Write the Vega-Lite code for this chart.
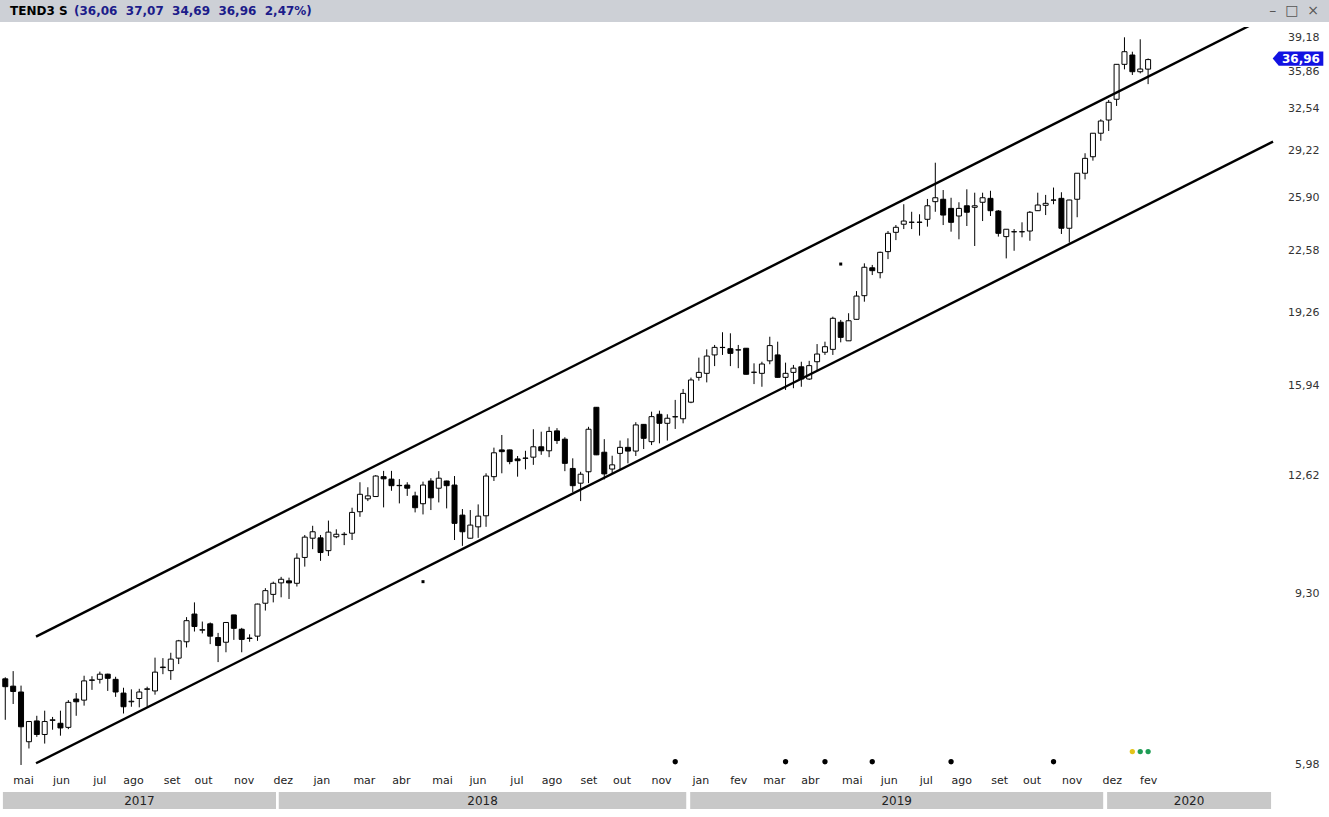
{
"$schema": "https://vega.github.io/schema/vega-lite/v6.json",
"padding": 0,
"background": "white",
"spacing": 5,
"config": {"view": {"stroke": null}, "font": "DejaVu Sans"},
"datasets": {
"candles": [
{"w":0,"o":7.47,"h":7.50,"l":6.72,"c":7.32},
{"w":1,"o":7.33,"h":7.62,"l":7.00,"c":7.23},
{"w":2,"o":7.22,"h":7.34,"l":5.98,"c":6.60},
{"w":3,"o":6.35,"h":6.70,"l":6.24,"c":6.69},
{"w":4,"o":6.70,"h":6.79,"l":6.43,"c":6.47},
{"w":5,"o":6.47,"h":6.88,"l":6.32,"c":6.69},
{"w":6,"o":6.71,"h":6.77,"l":6.55,"c":6.72},
{"w":7,"o":6.66,"h":6.88,"l":6.45,"c":6.58},
{"w":8,"o":6.59,"h":7.07,"l":6.56,"c":7.03},
{"w":9,"o":7.09,"h":7.20,"l":6.79,"c":7.04},
{"w":10,"o":7.07,"h":7.53,"l":6.97,"c":7.43},
{"w":11,"o":7.44,"h":7.52,"l":7.26,"c":7.45},
{"w":12,"o":7.46,"h":7.61,"l":7.38,"c":7.56},
{"w":13,"o":7.56,"h":7.57,"l":7.24,"c":7.48},
{"w":14,"o":7.46,"h":7.51,"l":7.13,"c":7.22},
{"w":15,"o":7.20,"h":7.30,"l":6.83,"c":6.95},
{"w":16,"o":7.04,"h":7.27,"l":6.95,"c":7.05},
{"w":17,"o":7.10,"h":7.28,"l":6.94,"c":7.22},
{"w":18,"o":7.27,"h":7.32,"l":6.95,"c":7.28},
{"w":19,"o":7.24,"h":7.89,"l":7.17,"c":7.60},
{"w":20,"o":7.69,"h":7.88,"l":7.56,"c":7.70},
{"w":21,"o":7.63,"h":7.99,"l":7.45,"c":7.86},
{"w":22,"o":7.88,"h":8.26,"l":7.76,"c":8.24},
{"w":23,"o":8.22,"h":8.76,"l":8.10,"c":8.68},
{"w":24,"o":8.83,"h":9.10,"l":8.44,"c":8.55},
{"w":25,"o":8.47,"h":8.66,"l":8.40,"c":8.48},
{"w":26,"o":8.61,"h":8.64,"l":8.17,"c":8.34},
{"w":27,"o":8.31,"h":8.41,"l":7.80,"c":8.14},
{"w":28,"o":8.21,"h":8.65,"l":8.00,"c":8.64},
{"w":29,"o":8.81,"h":8.81,"l":8.26,"c":8.51},
{"w":30,"o":8.49,"h":8.52,"l":8.00,"c":8.27},
{"w":31,"o":8.29,"h":8.38,"l":8.22,"c":8.30},
{"w":32,"o":8.34,"h":9.07,"l":8.24,"c":9.06},
{"w":33,"o":9.08,"h":9.44,"l":8.91,"c":9.38},
{"w":34,"o":9.29,"h":9.60,"l":9.10,"c":9.56},
{"w":35,"o":9.57,"h":9.72,"l":9.22,"c":9.66},
{"w":36,"o":9.62,"h":9.70,"l":9.18,"c":9.57},
{"w":37,"o":9.56,"h":10.33,"l":9.48,"c":10.20},
{"w":38,"o":10.22,"h":10.83,"l":9.98,"c":10.77},
{"w":39,"o":10.74,"h":11.09,"l":10.44,"c":10.92},
{"w":40,"o":10.75,"h":10.83,"l":10.13,"c":10.35},
{"w":41,"o":10.40,"h":11.24,"l":10.26,"c":10.91},
{"w":42,"o":10.78,"h":10.99,"l":10.74,"c":10.85},
{"w":43,"o":10.84,"h":10.91,"l":10.55,"c":10.85},
{"w":44,"o":10.88,"h":11.62,"l":10.69,"c":11.48},
{"w":45,"o":11.50,"h":12.41,"l":11.35,"c":12.03},
{"w":46,"o":11.89,"h":12.25,"l":11.82,"c":11.98},
{"w":47,"o":11.96,"h":12.64,"l":11.95,"c":12.61},
{"w":48,"o":12.59,"h":12.78,"l":11.63,"c":12.52},
{"w":49,"o":12.51,"h":12.78,"l":12.14,"c":12.30},
{"w":50,"o":12.30,"h":12.51,"l":11.75,"c":12.31},
{"w":51,"o":12.32,"h":12.41,"l":11.98,"c":12.22},
{"w":52,"o":11.98,"h":12.11,"l":11.48,"c":11.62},
{"w":53,"o":11.74,"h":12.43,"l":11.42,"c":12.32},
{"w":54,"o":12.45,"h":12.54,"l":11.55,"c":11.92},
{"w":55,"o":12.22,"h":12.77,"l":11.78,"c":12.54},
{"w":56,"o":12.45,"h":12.46,"l":11.60,"c":12.30},
{"w":57,"o":12.32,"h":12.61,"l":10.69,"c":11.16},
{"w":58,"o":11.40,"h":11.58,"l":10.53,"c":10.92},
{"w":59,"o":10.74,"h":11.55,"l":10.73,"c":11.11},
{"w":60,"o":11.06,"h":11.72,"l":10.75,"c":11.37},
{"w":61,"o":11.38,"h":12.70,"l":11.06,"c":12.61},
{"w":62,"o":12.59,"h":13.57,"l":12.45,"c":13.39},
{"w":63,"o":13.49,"h":14.02,"l":12.70,"c":13.43},
{"w":64,"o":13.49,"h":13.50,"l":13.00,"c":13.09},
{"w":65,"o":13.18,"h":13.28,"l":12.59,"c":13.12},
{"w":66,"o":13.20,"h":13.46,"l":12.83,"c":13.21},
{"w":67,"o":13.24,"h":14.23,"l":12.98,"c":13.60},
{"w":68,"o":13.60,"h":14.14,"l":13.32,"c":13.46},
{"w":69,"o":13.46,"h":14.32,"l":13.24,"c":14.15},
{"w":70,"o":14.17,"h":14.27,"l":13.70,"c":13.82},
{"w":71,"o":13.87,"h":13.94,"l":12.77,"c":13.03},
{"w":72,"o":12.86,"h":13.20,"l":12.09,"c":12.30},
{"w":73,"o":12.38,"h":12.75,"l":11.82,"c":12.67},
{"w":74,"o":12.75,"h":14.32,"l":12.38,"c":14.23},
{"w":75,"o":15.06,"h":15.07,"l":13.31,"c":13.32},
{"w":76,"o":13.41,"h":13.87,"l":12.50,"c":12.68},
{"w":77,"o":12.84,"h":13.29,"l":12.70,"c":12.98},
{"w":78,"o":13.37,"h":13.82,"l":12.81,"c":13.58},
{"w":79,"o":13.58,"h":13.90,"l":13.03,"c":13.45},
{"w":80,"o":13.45,"h":14.49,"l":13.28,"c":14.39},
{"w":81,"o":14.41,"h":14.42,"l":13.52,"c":13.90},
{"w":82,"o":13.78,"h":14.89,"l":13.66,"c":14.70},
{"w":83,"o":14.79,"h":14.93,"l":13.72,"c":14.45},
{"w":84,"o":14.45,"h":14.79,"l":13.82,"c":14.64},
{"w":85,"o":14.69,"h":15.35,"l":14.24,"c":14.70},
{"w":86,"o":14.62,"h":15.79,"l":14.45,"c":15.61},
{"w":87,"o":15.26,"h":16.26,"l":15.22,"c":16.16},
{"w":88,"o":16.27,"h":17.12,"l":16.13,"c":16.48},
{"w":89,"o":16.44,"h":17.49,"l":16.06,"c":17.19},
{"w":90,"o":17.24,"h":17.69,"l":16.75,"c":17.58},
{"w":91,"o":17.57,"h":18.28,"l":17.24,"c":17.58},
{"w":92,"o":17.52,"h":18.23,"l":16.75,"c":17.31},
{"w":93,"o":17.46,"h":17.69,"l":16.66,"c":17.47},
{"w":94,"o":17.54,"h":17.55,"l":16.39,"c":16.40},
{"w":95,"o":16.48,"h":16.87,"l":15.99,"c":16.49},
{"w":96,"o":16.44,"h":16.94,"l":15.88,"c":16.84},
{"w":97,"o":16.98,"h":18.07,"l":16.83,"c":17.66},
{"w":98,"o":17.24,"h":17.84,"l":16.26,"c":16.27},
{"w":99,"o":16.27,"h":16.90,"l":15.75,"c":16.44},
{"w":100,"o":16.48,"h":16.80,"l":15.82,"c":16.66},
{"w":101,"o":16.72,"h":16.94,"l":15.88,"c":16.20},
{"w":102,"o":16.20,"h":16.98,"l":16.16,"c":16.77},
{"w":103,"o":16.94,"h":17.73,"l":16.55,"c":17.28},
{"w":104,"o":17.36,"h":17.84,"l":17.24,"c":17.61},
{"w":105,"o":17.49,"h":19.03,"l":17.24,"c":18.95},
{"w":106,"o":18.76,"h":18.87,"l":17.81,"c":18.04},
{"w":107,"o":17.88,"h":19.20,"l":17.87,"c":18.83},
{"w":108,"o":18.90,"h":20.33,"l":18.89,"c":20.07},
{"w":109,"o":20.09,"h":21.84,"l":19.78,"c":21.62},
{"w":110,"o":21.59,"h":21.75,"l":21.19,"c":21.43},
{"w":111,"o":21.32,"h":22.51,"l":21.01,"c":22.47},
{"w":112,"o":22.51,"h":23.74,"l":22.08,"c":23.60},
{"w":113,"o":23.66,"h":24.11,"l":23.19,"c":23.97},
{"w":114,"o":24.16,"h":25.44,"l":23.86,"c":24.36},
{"w":115,"o":24.28,"h":24.95,"l":23.86,"c":24.29},
{"w":116,"o":24.28,"h":24.79,"l":23.46,"c":24.29},
{"w":117,"o":24.47,"h":25.79,"l":24.01,"c":25.34},
{"w":118,"o":25.61,"h":28.32,"l":24.95,"c":25.87},
{"w":119,"o":25.77,"h":26.39,"l":24.11,"c":24.74},
{"w":120,"o":25.17,"h":25.87,"l":23.70,"c":24.28},
{"w":121,"o":24.68,"h":25.57,"l":23.24,"c":25.17},
{"w":122,"o":25.34,"h":26.44,"l":24.05,"c":24.92},
{"w":123,"o":25.24,"h":26.21,"l":22.84,"c":25.34},
{"w":124,"o":25.57,"h":26.21,"l":24.36,"c":25.87},
{"w":125,"o":25.83,"h":26.34,"l":24.68,"c":25.02},
{"w":126,"o":25.00,"h":25.06,"l":23.40,"c":23.60},
{"w":127,"o":23.40,"h":23.86,"l":22.12,"c":23.85},
{"w":128,"o":23.69,"h":23.86,"l":22.56,"c":23.70},
{"w":129,"o":23.70,"h":24.28,"l":23.36,"c":23.69},
{"w":130,"o":23.74,"h":25.00,"l":23.15,"c":24.92},
{"w":131,"o":25.02,"h":26.21,"l":25.01,"c":25.39},
{"w":132,"o":25.37,"h":26.06,"l":24.74,"c":25.50},
{"w":133,"o":25.71,"h":26.56,"l":25.44,"c":25.72},
{"w":134,"o":25.83,"h":26.24,"l":23.56,"c":23.91},
{"w":135,"o":23.91,"h":25.73,"l":23.04,"c":25.72},
{"w":136,"o":25.77,"h":27.57,"l":24.60,"c":27.56},
{"w":137,"o":27.56,"h":29.02,"l":27.13,"c":28.64},
{"w":138,"o":28.76,"h":30.57,"l":28.47,"c":30.56},
{"w":139,"o":30.56,"h":31.68,"l":29.97,"c":31.54},
{"w":140,"o":31.62,"h":33.30,"l":30.74,"c":33.10},
{"w":141,"o":33.36,"h":36.52,"l":32.79,"c":36.51},
{"w":142,"o":36.51,"h":39.15,"l":36.04,"c":37.72},
{"w":143,"o":37.40,"h":37.72,"l":35.52,"c":35.82},
{"w":144,"o":35.82,"h":38.95,"l":35.67,"c":36.07},
{"w":145,"o":36.06,"h":37.07,"l":34.69,"c":36.96}
]
},
"vconcat": [
{
"width": 1329, "height": 22,
"view": {"fill": "#cdd0d6", "stroke": null},
"layer": [
{"data": {"values": [{"slot": "t", "label": "TEND3 S"}]},
"mark": {"type": "text", "align": "left", "baseline": "middle", "dx": 10, "fontSize": 12, "fontWeight": "bold", "color": "#000000"},
"encoding": {"x": {"field": "slot", "type": "nominal", "bandPosition": 0, "axis": null, "scale": {"type": "band", "domain": ["t", "c"], "paddingInner": 0, "paddingOuter": 0}}, "text": {"field": "label"}}},
{"data": {"values": [{"slot": "t", "label": "(36,06\u00a0\u00a037,07\u00a0\u00a034,69\u00a0\u00a036,96\u00a0\u00a02,47%)"}]},
"mark": {"type": "text", "align": "left", "baseline": "middle", "dx": 74, "fontSize": 12, "fontWeight": "bold", "color": "#1c1c8a"},
"encoding": {"x": {"field": "slot", "type": "nominal", "bandPosition": 0, "axis": null}, "text": {"field": "label"}}},
{"data": {"values": [{"slot": "c", "label": "\u2013\u00a0\u00a0\u25a1\u00a0\u00a0\u00d7"}]},
"mark": {"type": "text", "align": "right", "baseline": "middle", "dx": -10, "fontSize": 14, "color": "#555555"},
"encoding": {"x": {"field": "slot", "type": "nominal", "bandPosition": 1, "axis": null}, "text": {"field": "label"}}}
]
},
{
"spacing": 7,
"vconcat": [
{
"width": 1275, "height": 743,
"layer": [
{"data": {"name": "candles"},
"mark": {"type": "rule", "color": "black", "strokeWidth": 1},
"encoding": {
"x": {"field": "w", "type": "quantitative", "scale": {"domain": [-0.67, 161.1], "nice": false, "zero": false, "padding": 0},
"axis": {"values": [2.25,7.07,11.93,16.2,21.1,25.1,30.25,35.2,40.1,45.5,50.2,55.4,59.9,64.85,69.3,74,78.2,83.2,88.2,93,97.5,102.1,107.4,112.1,116.8,121.3,126.1,130.2,135.3,140.4,145],
"labelExpr": "['mai','jun','jul','ago','set','out','nov','dez','jan','mar','abr','mai','jun','jul','ago','set','out','nov','jan','fev','mar','abr','mai','jun','jul','ago','set','out','nov','dez','fev'][indexof([2.25,7.07,11.93,16.2,21.1,25.1,30.25,35.2,40.1,45.5,50.2,55.4,59.9,64.85,69.3,74,78.2,83.2,88.2,93,97.5,102.1,107.4,112.1,116.8,121.3,126.1,130.2,135.3,140.4,145], datum.value)]",
"domain": false, "ticks": false, "grid": false, "title": null, "labelPadding": 4, "labelFontSize": 11, "labelColor": "#222222", "labelOverlap": false, "labelFlush": false, "labelBound": false}},
"y": {"field": "l", "type": "quantitative", "scale": {"type": "log", "domain": [5.903, 40.205], "nice": false},
"axis": {"orient": "right", "values": [5.98,9.3,12.62,15.94,19.26,22.58,25.9,29.22,32.54,35.86,39.18],
"labelExpr": "replace(format(datum.value, '.2f'), '.', ',')",
"domain": false, "ticks": false, "grid": false, "title": null, "labelAlign": "right", "labelBaseline": "middle", "labelPadding": 44, "labelFontSize": 11, "labelColor": "#333333", "labelOverlap": false, "labelFlush": false, "labelBound": false}},
"y2": {"field": "h"}
}},
{"data": {"name": "candles"},
"mark": {"type": "bar", "width": 5, "stroke": "black", "strokeWidth": 1},
"encoding": {
"x": {"field": "w", "type": "quantitative"},
"y": {"field": "o", "type": "quantitative"},
"y2": {"field": "c"},
"fill": {"condition": {"test": "datum.c < datum.o", "value": "black"}, "value": "white"}
}},
{"data": {"values": [{"w": 53, "p": 9.60}, {"w": 106, "p": 21.80}]},
"mark": {"type": "point", "shape": "square", "filled": true, "size": 9, "color": "black", "opacity": 1},
"encoding": {"x": {"field": "w", "type": "quantitative"}, "y": {"field": "p", "type": "quantitative"}}},
{"data": {"values": [
{"w": 85, "p": 6.03, "t": "A"}, {"w": 99, "p": 6.03, "t": "A"}, {"w": 104, "p": 6.03, "t": "A"},
{"w": 110, "p": 6.03, "t": "A"}, {"w": 120, "p": 6.03, "t": "A"}, {"w": 133, "p": 6.03, "t": "A"},
{"w": 143, "p": 6.19, "t": "B"}, {"w": 144, "p": 6.19, "t": "C"}, {"w": 145, "p": 6.19, "t": "C"}]},
"mark": {"type": "circle", "size": 28, "opacity": 1},
"encoding": {"x": {"field": "w", "type": "quantitative"}, "y": {"field": "p", "type": "quantitative"},
"color": {"field": "t", "type": "nominal", "scale": {"domain": ["A", "B", "C"], "range": ["#000000", "#e3c41a", "#1e9c55"]}, "legend": null}}},
{"data": {"values": [
{"ln": "sup", "w": 3.9, "p": 8.33}, {"ln": "sup", "w": 158.6, "p": 40.65},
{"ln": "inf", "w": 3.9, "p": 6.006}, {"ln": "inf", "w": 160.85, "p": 29.90}]},
"mark": {"type": "line", "color": "black", "strokeWidth": 2.4, "clip": true},
"encoding": {"x": {"field": "w", "type": "quantitative"}, "y": {"field": "p", "type": "quantitative"}, "detail": {"field": "ln"}}},
{"data": {"values": [{"last": 36.96, "label": "36,96"}]},
"mark": {"type": "point", "shape": "M -1 0 L -0.76 -0.28 L 1 -0.28 L 1 0.28 L -0.76 0.28 Z", "size": 2560, "filled": true, "color": "#1212e2", "opacity": 1, "xOffset": 23, "yOffset": -1},
"encoding": {"x": {"value": "width"}, "y": {"field": "last", "type": "quantitative"}}},
{"data": {"values": [{"last": 36.96, "label": "36,96"}]},
"mark": {"type": "text", "color": "white", "fontWeight": "bold", "fontSize": 12, "align": "center", "baseline": "middle", "xOffset": 26, "yOffset": -1},
"encoding": {"x": {"value": "width"}, "y": {"field": "last", "type": "quantitative"}, "text": {"field": "label"}}}
]
},
{
"width": 1275, "height": 17,
"data": {"values": [
{"year": "2017", "s": -0.3, "e": 34.35},
{"year": "2018", "s": 34.7, "e": 86.4},
{"year": "2019", "s": 86.9, "e": 139.3},
{"year": "2020", "s": 139.8, "e": 160.6}]},
"layer": [
{"mark": {"type": "rect", "color": "#c8c8c8"},
"encoding": {"x": {"field": "s", "type": "quantitative", "scale": {"domain": [-0.67, 161.1], "nice": false, "zero": false, "padding": 0}, "axis": null}, "x2": {"field": "e"}}},
{"transform": [{"calculate": "(datum.s + datum.e) / 2", "as": "mid"}],
"mark": {"type": "text", "fontSize": 12, "color": "#222222", "baseline": "middle"},
"encoding": {"x": {"field": "mid", "type": "quantitative", "axis": null}, "text": {"field": "year"}}}
]
}
]
}
]
}
